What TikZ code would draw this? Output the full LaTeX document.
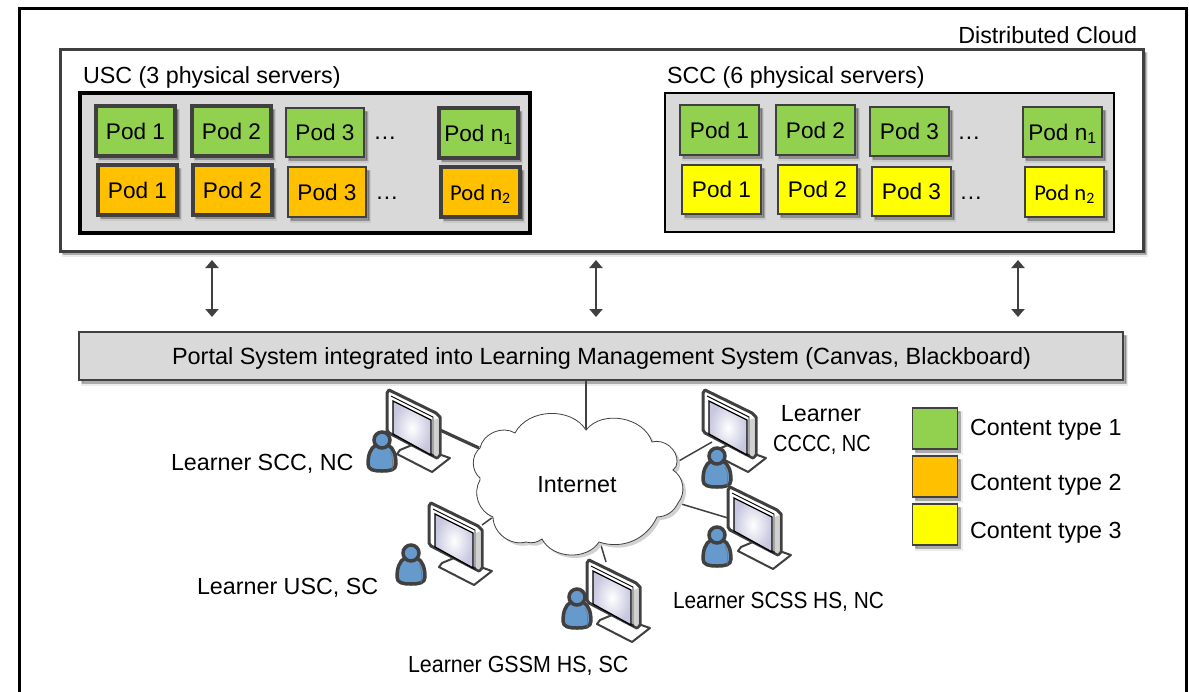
\documentclass[tikz,border=0pt]{standalone}
\usepackage{fontspec}
\setmainfont{Liberation Sans}
\newfontfamily\calfont{Carlito}
\usetikzlibrary{arrows.meta}
\definecolor{podgreen}{HTML}{92D050}
\definecolor{podorange}{HTML}{FFC000}
\definecolor{podyellow}{HTML}{FFFF00}
\definecolor{panel}{HTML}{D9D9D9}
\definecolor{edge}{HTML}{404040}
\definecolor{person}{HTML}{6699CC}
\tikzset{
  every node/.style={outer sep=0pt},
  softshadow/.style={
    preaction={draw=black,line width=3pt,fill=black,opacity=.07,transform canvas={shift={(3.5pt,-4pt)}}},
    preaction={draw=black,line width=1.5pt,fill=black,opacity=.12,transform canvas={shift={(3pt,-3.5pt)}}},
    preaction={draw=none,fill=black,opacity=.18,transform canvas={shift={(2.5pt,-3pt)}}}},
  lbl/.style={font=\fontsize{23.3}{26}\selectfont,inner sep=0pt,text=black},
  podtext/.style={font=\fontsize{22.6}{25}\selectfont,inner sep=0pt,text=black,text height=16pt,text depth=0pt},
  pod/.style={podtext,draw=edge,line width=3.5pt,softshadow,anchor=north west},
  thinpod/.style={pod,line width=1.7pt},
  panelbox/.style={fill=panel,anchor=north west,inner sep=0pt},
  keybox/.style={draw=edge,line width=1.7pt,softshadow,minimum width=45pt,minimum height=41pt,anchor=north west,inner sep=0pt},
  conn/.style={draw=edge,line width=1.5pt},
  biarrow/.style={draw=edge,line width=2pt,{Triangle[length=8pt,width=13pt]}-{Triangle[length=8pt,width=13pt]}},
}
\newcommand{\podbox}[8]{% name, style, colour, x1,y1,x2,y2, text
  \node[#2,fill=#3,minimum width=#6pt-#4pt,minimum height=#7pt-#5pt] (#1) at (#4,#5) {#8};}
\newcommand{\pc}[2]{% monitor at top-left #1,#2
  \begin{scope}[shift={(#1,#2)}]
    \draw[edge,fill=white,line width=2pt,line join=round] (13,60) -- (25,55) -- (63,68) -- (45,82) -- (10,64) -- cycle;
    \draw[edge,fill=white,line width=3pt,line join=round] (2,0) -- (49,23) -- (53,27) -- (53,65) -- (50,68) -- (2,43) -- (0,40) -- (0,3) -- cycle;
    \fill[black!18] (47,30) -- (51.5,28) -- (51.5,64) -- (50,66.5) -- (47,65) -- cycle;
    \draw[black,line width=.9pt,line join=miter] (4,6) -- (46,27) -- (46,67);
    \shade[inner color=white,outer color=blue!45!black!22] (6,11) -- (44,30) -- (44,65) -- (6,44) -- cycle;
    \draw[black,line width=1.3pt,line join=miter] (6,11) -- (44,30) -- (44,65) -- (6,44) -- cycle;
  \end{scope}}
\newcommand{\personicon}[2]{% head centre
  \begin{scope}[shift={(#1,#2)}]
    \draw[edge,fill=person,line width=3.5pt,line join=round] (-6,5) .. controls (-12,8) and (-14,16) .. (-14,24) .. controls (-14,30) and (-8,31) .. (0,31) .. controls (8,31) and (14,30) .. (14,24) .. controls (14,16) and (12,8) .. (6,5) -- cycle;
    \draw[edge!70,line width=.7pt] (8,11) .. controls (11,15) and (11,24) .. (10,30);
    \draw[edge,fill=person,line width=3.5pt] (0,0) circle (8);
  \end{scope}}
\begin{document}
\begin{tikzpicture}[x=1pt,y=-1pt]
\useasboundingbox (0,0) rectangle (1189,691);
% outer frame
\draw[black,line width=3pt] (19,700) |- (1186.5,8) -- (1186.5,700);
\node[draw=edge,line width=3pt,panelbox,fill=white,softshadow,minimum width=1083pt,minimum height=202pt] (cloudbox) at (60,49) {};
\node[lbl,anchor=base east] (dc) at (1137,43) {Distributed Cloud};
\node[lbl,anchor=base west] (usclbl) at (83,83) {USC (3 physical servers)};
\node[lbl,anchor=base west] (scclbl) at (667,83) {SCC (6 physical servers)};
\node[draw=black,line width=3.5pt,panelbox,minimum width=450pt,minimum height=140pt] (usc) at (80,93) {};
\node[draw=black,line width=1.6pt,panelbox,minimum width=449pt,minimum height=139pt] (scc) at (665,93) {};
% USC pods
\podbox{ua}{pod}{podgreen}{96}{106}{175}{156}{Pod 1}
\podbox{ub}{pod}{podgreen}{192}{106}{271}{156}{Pod 2}
\podbox{uc}{thinpod}{podgreen}{286}{108}{364}{157}{Pod 3}
\podbox{ud}{pod}{podgreen}{439}{108}{518}{158}{Pod n\textsubscript{1}}
\podbox{ue}{pod}{podorange}{98}{165}{177}{215}{Pod 1}
\podbox{uf}{pod}{podorange}{193}{165}{272}{215}{Pod 2}
\podbox{ug}{thinpod}{podorange}{288}{167}{366}{217}{Pod 3}
\podbox{uh}{pod}{podorange}{441}{167}{520}{217}{\calfont Pod n\textsubscript{2}}
\node[lbl,anchor=base] (ux) at (385,139) {…};
\node[lbl,anchor=base] (uy) at (387,199) {…};
% SCC pods
\podbox{sa}{thinpod}{podgreen}{680}{105}{759}{155}{Pod 1}
\podbox{sb}{thinpod}{podgreen}{776}{105}{855}{155}{Pod 2}
\podbox{sc}{thinpod}{podgreen}{870}{107}{949}{156}{Pod 3}
\podbox{sd}{thinpod}{podgreen}{1023}{107}{1102}{157}{Pod n\textsubscript{1}}
\podbox{se}{thinpod}{podyellow}{682}{165}{761}{214}{Pod 1}
\podbox{sf}{thinpod}{podyellow}{778}{165}{857}{214}{Pod 2}
\podbox{sg}{thinpod}{podyellow}{872}{167}{951}{216}{Pod 3}
\podbox{sh}{thinpod}{podyellow}{1025}{167}{1104}{217}{\calfont Pod n\textsubscript{2}}
\node[lbl,anchor=base] (sx) at (969,139) {…};
\node[lbl,anchor=base] (sy) at (971,199) {…};
% portal
\node[lbl,draw=edge,fill=panel,line width=1.7pt,softshadow,minimum width=1044pt,minimum height=48pt,anchor=north west] (portal) at (79,332) {};
\node[lbl,font=\fontsize{23.45}{26}\selectfont,anchor=base] (portaltext) at (601.5,364) {Portal System integrated into Learning Management System (Canvas, Blackboard)};
% arrows
\coordinate (a1t) at (212,260); \coordinate (a1b) at (212,317);
\coordinate (a2t) at (596,260); \coordinate (a2b) at (596,317);
\coordinate (a3t) at (1018,260); \coordinate (a3b) at (1018,317);
\draw[biarrow] (a1t) -- (a1b);
\draw[biarrow] (a2t) -- (a2b);
\draw[biarrow] (a3t) -- (a3b);
% connectors
\coordinate (ctop) at (586,430);
\coordinate (cw) at (479,448);
\coordinate (cne) at (677,462);
\coordinate (ce) at (678,503);
\coordinate (cs) at (600,542);
\coordinate (csw) at (493,517);
\coordinate (m1) at (440,430);
\coordinate (m2) at (712,442);
\coordinate (m3) at (728,518);
\coordinate (m4) at (606,562);
\coordinate (m5) at (482,525);
\draw[conn] (portal.south -| ctop) -- (ctop);
\draw[draw=edge,line width=3.2pt] (m1) -- (cw);
\draw[conn] (m2) -- (cne);
\draw[conn] (m3) -- (ce);
\draw[conn] (m4) -- (cs);
\draw[conn] (m5) -- (csw);
% cloud
\def\cloudpath{(586,430) to[bend left=62] (652,442) to[bend left=55] (677,462) to[bend left=25] (673,470) to[bend left=48] (678,503) to[bend left=30] (657,517) to[bend left=42] (599,542) to[bend left=60] (542,539) to[bend left=25] (526,542) to[bend left=52] (493,517) to[bend left=50] (480,480) to[bend left=10] (480,478) to[bend left=50] (480,448) to[bend left=55] (515,433) to[bend left=60] cycle}
\fill[black!18,shift={(3,3)}] \cloudpath;
\draw[fill=white,draw=edge,line width=.8pt] \cloudpath;
\node[lbl,anchor=base] (inet) at (577,492) {Internet};
% computers
\pc{387}{390}\personicon{382}{440}
\pc{703}{390}\personicon{717}{456}
\pc{728}{487}\personicon{717}{535}
\pc{587}{560}\personicon{577}{597}
\pc{429}{503}\personicon{411}{553}
% labels
\node[lbl,anchor=base west] (l1) at (171,470) {Learner SCC, NC};
\node[lbl,anchor=base] (l2a) at (821,421) {Learner};
\node[lbl,anchor=base] (l2b) at (822,451) {\scalebox{.857}[1]{CCCC, NC}};
\node[lbl,anchor=base west] (l3) at (197,594) {Learner USC, SC};
\node[lbl,anchor=base west] (l4) at (673,608) {\scalebox{.895}[1]{Learner SCSS HS, NC}};
\node[lbl,anchor=base west] (l5) at (408,672) {\scalebox{.92}[1]{Learner GSSM HS, SC}};
% legend
\node[keybox,fill=podgreen] (k1) at (912.5,408) {};
\node[keybox,fill=podorange] (k2) at (912.5,456) {};
\node[keybox,fill=podyellow] (k3) at (912.5,504) {};
\node[lbl,anchor=base west] (t1) at (970,435) {Content type 1};
\node[lbl,anchor=base west] (t2) at (970,490) {Content type 2};
\node[lbl,anchor=base west] (t3) at (970,538) {Content type 3};
\end{tikzpicture}
\end{document}
